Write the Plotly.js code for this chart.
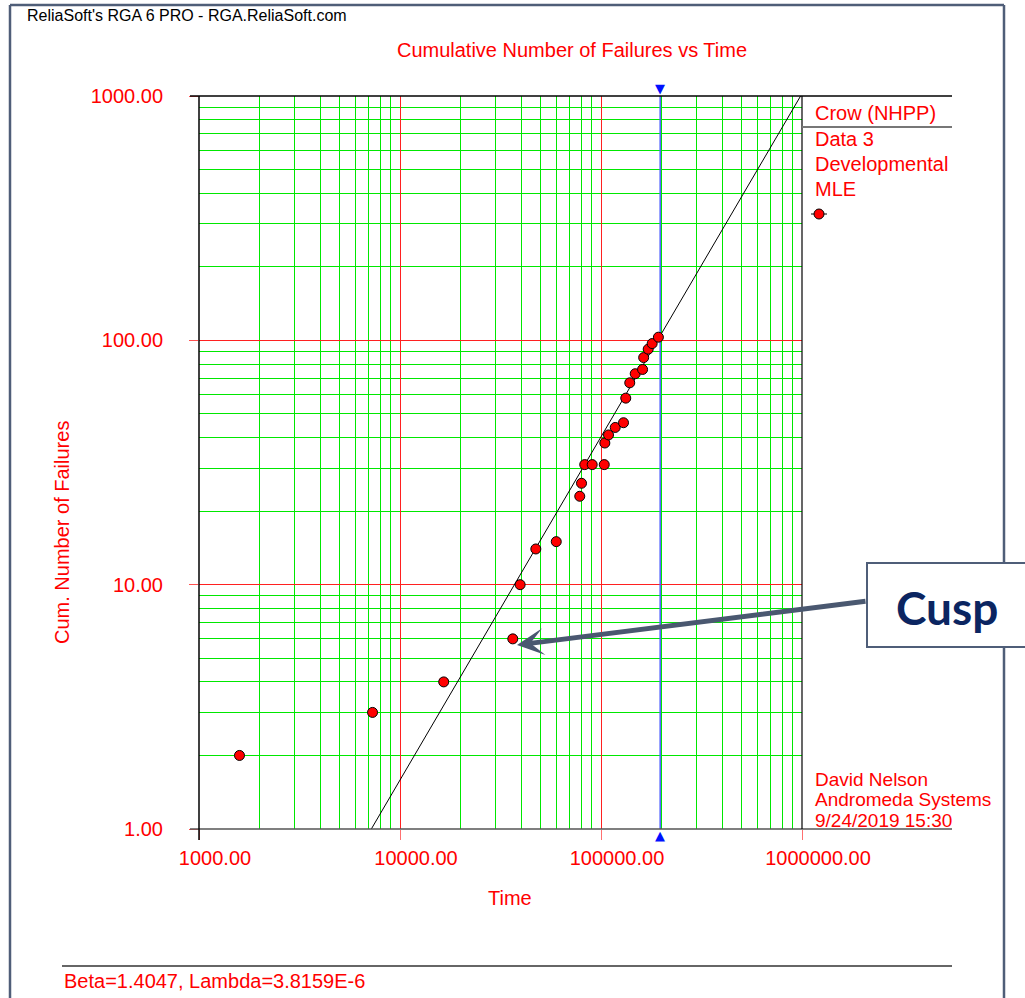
<!DOCTYPE html>
<html>
<head>
<meta charset="utf-8">
<script src="https://cdn.plot.ly/plotly-3.0.1.min.js"></script>
<style>
  html, body { margin: 0; padding: 0; background: #fff; }
  #chart { width: 1025px; height: 998px; }
</style>
</head>
<body>
<div id="chart"></div>
<script>
// Failure data: time of each observation and cumulative number of failures
const failTimes   = [1590, 7300, 16500, 36400, 39600, 47400, 59900, 78400, 80000, 83000, 90400, 103800,
                     104500, 109000, 117700, 129400, 132800, 139000, 148000, 161000, 163000, 171700, 179700, 193000];
const cumFailures = [2, 3, 4, 6, 10, 14, 15, 23, 26, 31, 31, 31,
                     38, 41, 44, 46, 58, 67, 73, 76, 85, 92, 97, 103];

// Crow (NHPP) MLE parameters and end of test time
const beta = 1.4047;
const lambda = 3.8159e-6;
const endTime = 197000;

// Axis ticks
const xTickVals = [1000, 10000, 100000, 1000000];
const xTickText = ['1000.00', '10000.00', '100000.00', '1000000.00'];
const yTickVals = [1, 10, 100, 1000];
const yTickText = ['1.00', '10.00', '100.00', '1000.00'];

// Legend / info text
const legendLines = ['Crow (NHPP)', 'Data 3', 'Developmental', 'MLE'];
const userLines = ['David Nelson', 'Andromeda Systems', '9/24/2019 15:30'];

const RED = '#ff0000';
const GREEN = '#00e800';
const FRAME = '#4f5e78';
const FONT = '"Liberation Sans", Arial, sans-serif';

// Page geometry (pixels)
const W = 1025, H = 998;
const L = 199, R = 802, T = 96, B = 829;
const px = x => (x - L) / (R - L);
const py = y => (B - y) / (B - T);

// Minor gridline positions (2..9 in each decade)
function minorVals(lo, hi) {
  const v = [];
  for (let d = lo; d < hi; d *= 10) for (let k = 2; k <= 9; k++) v.push(k * d);
  return v;
}

// Fitted Crow line N(t) = lambda * t^beta, drawn across the y range
const tAt = n => Math.pow(n / lambda, 1 / beta);
const fitN = [1, 1000];
const fitT = fitN.map(tAt);

const traces = [
  { x: fitT, y: fitN, mode: 'lines', line: { color: '#000', width: 1 }, hoverinfo: 'skip' },
  { x: [endTime, endTime], y: [1, 1000], mode: 'lines', line: { color: '#4a5cff', width: 1.5 }, hoverinfo: 'skip' },
  { x: failTimes, y: cumFailures, mode: 'markers',
    marker: { size: 10, color: '#ff0000', line: { color: '#000', width: 1 } } }
];

function lineShape(x0, y0, x1, y1, color, width) {
  return { type: 'line', xref: 'paper', yref: 'paper', x0: px(x0), y0: py(y0), x1: px(x1), y1: py(y1),
           line: { color: color, width: width }, layer: 'above' };
}

const shapes = [
  // outer frame
  lineShape(10, 5, 10, 1000, FRAME, 2.5),
  lineShape(10, 5, 1004, 5, FRAME, 2.5),
  lineShape(1004, 5, 1004, 1000, FRAME, 2.5),
  // plot borders and extensions
  lineShape(190, T, 952, T, '#000', 1.5),
  lineShape(190, B, 952, B, '#555', 1.5),
  lineShape(L, T, L, 840, '#000', 1.5),
  lineShape(R, T, R, B, '#000', 1.2),
  // legend divider
  lineShape(R, 127, 952, 127, '#777', 2),
  // footer rule
  lineShape(62, 966, 952, 966, '#666', 2),
  // legend sample
  lineShape(811, 214, 827, 214, '#000', 1),
  { type: 'circle', xref: 'paper', yref: 'paper', x0: px(814), x1: px(824), y0: py(219), y1: py(209),
    fillcolor: '#ff0000', line: { color: '#000', width: 1 }, layer: 'above' },
  // callout box
  { type: 'rect', xref: 'paper', yref: 'paper', x0: px(867), x1: px(1032), y0: py(647), y1: py(563),
    fillcolor: '#fff', line: { color: FRAME, width: 2 }, layer: 'above' }
];

function txt(text, x, y, opt) {
  return Object.assign({ text: text, xref: 'paper', yref: 'paper', x: px(x), y: py(y),
    xanchor: 'left', yanchor: 'middle', showarrow: false,
    font: { family: FONT, size: 20, color: RED } }, opt || {});
}

const annotations = [
  txt("ReliaSoft's RGA 6 PRO - RGA.ReliaSoft.com", 25, 16, { font: { family: FONT, size: 16, color: '#000' } }),
  txt('Time', 510, 898, { xanchor: 'center' }),
  txt('Cum. Number of Failures', 62, 533, { xanchor: 'center', textangle: -90 }),
  txt('Beta=' + beta.toFixed(4) + ', Lambda=' + lambda.toExponential(4).toUpperCase(), 62, 981,
      { font: { family: FONT, size: 20, color: RED } }),
  txt('<b>Cusp</b>', 947, 607, { xanchor: 'center', font: { family: 'Lato, "Open Sans", sans-serif', size: 46, color: '#0b2561' } }),
  // arrow pointing at the cusp
  { xref: 'paper', yref: 'paper', x: px(517), y: py(645), ax: 867 - 517, ay: 601 - 645, text: '',
    showarrow: true, arrowhead: 3, arrowsize: 0.9, arrowwidth: 5, arrowcolor: '#4a5870', standoff: 0 },
  // end-of-test markers on the time line
  { xref: 'x', yref: 'paper', x: Math.log10(endTime), y: 1, yanchor: 'bottom', yshift: -2, showarrow: false,
    text: '▼', font: { family: 'DejaVu Sans', size: 13, color: '#0010ff' } },
  { xref: 'x', yref: 'paper', x: Math.log10(endTime), y: 0, yanchor: 'top', yshift: 3, showarrow: false,
    text: '▲', font: { family: 'DejaVu Sans', size: 13, color: '#0010ff' } }
];
legendLines.forEach((s, i) => annotations.push(txt(s, 813, [113, 139, 164, 189][i])));
userLines.forEach((s, i) => annotations.push(txt(s, 813, [779, 799.5, 820][i], { font: { family: FONT, size: 19, color: RED } })));

const layout = {
  width: W, height: H,
  margin: { l: L, r: W - R, t: T, b: H - B, pad: 0 },
  paper_bgcolor: '#fff', plot_bgcolor: '#fff',
  showlegend: false,
  font: { family: FONT, size: 20, color: RED },
  title: { text: 'Cumulative Number of Failures vs Time', font: { family: FONT, size: 20, color: RED },
           xref: 'paper', x: px(572), xanchor: 'center', yref: 'container', y: 1 - 50 / H, yanchor: 'middle' },
  xaxis: {
    type: 'log', range: [3, 6], tickmode: 'array', tickvals: xTickVals, ticktext: xTickText,
    ticks: 'outside', ticklen: 10, tickcolor: '#ff7070', tickwidth: 1,
    tickfont: { family: FONT, size: 20, color: RED }, ticklabelshift: 16, ticklabelstandoff: 1,
    showgrid: true, gridcolor: '#ff2020', gridwidth: 1,
    minor: { tickvals: minorVals(1000, 1000000), showgrid: true, gridcolor: GREEN, gridwidth: 1, ticks: '' },
    showline: false, zeroline: false, fixedrange: true
  },
  yaxis: {
    type: 'log', range: [0, 3], tickmode: 'array', tickvals: yTickVals, ticktext: yTickText,
    ticks: 'outside', ticklen: 9, tickcolor: '#ff5050', tickwidth: 1,
    tickfont: { family: FONT, size: 20, color: RED }, ticklabelstandoff: 22,
    showgrid: true, gridcolor: '#ff2020', gridwidth: 1,
    minor: { tickvals: minorVals(1, 1000), showgrid: true, gridcolor: GREEN, gridwidth: 1, ticks: '' },
    showline: false, zeroline: false, fixedrange: true
  },
  shapes: shapes,
  annotations: annotations
};

Plotly.newPlot('chart', traces, layout, { displayModeBar: false, staticPlot: true });
</script>
</body>
</html>
